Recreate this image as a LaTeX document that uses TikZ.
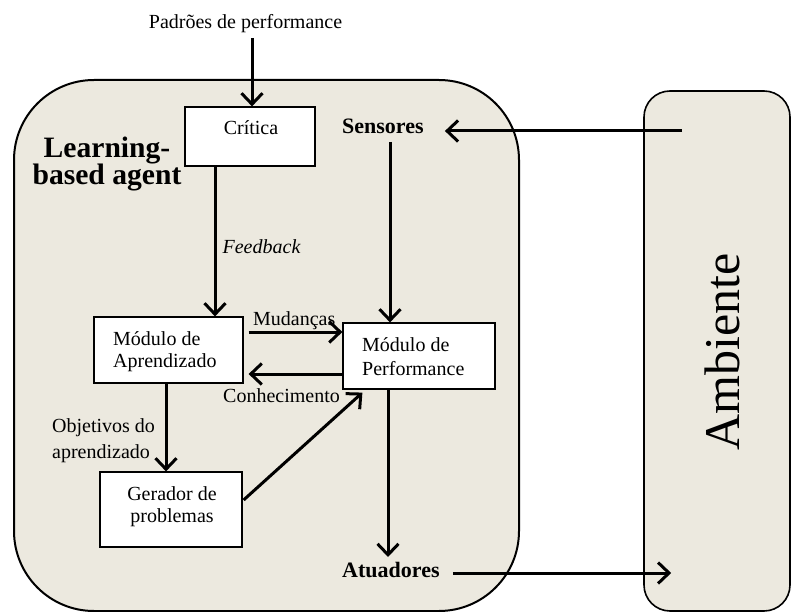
\documentclass[tikz,border=0pt]{standalone}
\usepackage{fontspec}
\setmainfont{Liberation Serif}
\usetikzlibrary{arrows.meta,calc}
\definecolor{bgfill}{HTML}{ECE9DF}
\begin{document}
\begin{tikzpicture}[x=1pt,y=-1pt,
  agentbox/.style={draw=black,line width=2pt,fill=bgfill,rounded corners=80pt,minimum width=505pt,minimum height=531pt,inner sep=0pt},
  envbox/.style={draw=black,line width=1.6pt,fill=bgfill,rounded corners=26pt,minimum width=146pt,minimum height=520pt,inner sep=0pt},
  modbox/.style={draw=black,line width=1.2pt,fill=white,inner sep=0pt},
  lbl/.style={inner sep=0pt,font=\fontsize{20}{24}\selectfont},
  boldlbl/.style={inner sep=3pt,font=\bfseries\fontsize{22}{26}\selectfont},
  arr/.style={line width=3pt,-{Straight Barb[length=11pt,width=21pt,line width=3pt]}}
]
\useasboundingbox (0,0) rectangle (792,612);
% containers
\node[agentbox] (agent) at (266.5,345.5) {};
\node[envbox] (amb) at (717,351) {};
\node[inner sep=0pt,rotate=90,font=\fontsize{50}{56}\selectfont] (ambtxt) at (722,352) {Ambiente};
% title
\node[inner sep=0pt,anchor=base,font=\bfseries\fontsize{29.6}{32}\selectfont] (title1) at (107,158) {Learning-};
\node[inner sep=0pt,anchor=base,font=\bfseries\fontsize{29.6}{32}\selectfont] (title2) at (107,185) {based agent};
% module boxes
\node[modbox,minimum width=130pt,minimum height=59pt] (crit) at (250,136.5) {};
\node[modbox,minimum width=149pt,minimum height=66pt] (apr) at (168.5,350) {};
\node[modbox,minimum width=152pt,minimum height=66pt] (perf) at (419,356) {};
\node[modbox,minimum width=142pt,minimum height=75pt] (gen) at (171,509.5) {};
% box texts
\node[lbl,anchor=base] (crittxt) at (251,135) {Crítica};
\node[lbl,anchor=base west] (apr1) at (113,345.5) {Módulo de};
\node[lbl,anchor=base west] (apr2) at (113,367.5) {Aprendizado};
\node[lbl,anchor=base west] (perf1) at (362,351) {Módulo de};
\node[lbl,anchor=base west] (perf2) at (362,375) {Performance};
\node[lbl,anchor=base] (gen1) at (172,500) {Gerador de};
\node[lbl,anchor=base] (gen2) at (172,522) {problemas};
% outer labels
\node[lbl,anchor=base] (padr) at (245.5,29) {Padrões de performance};
\node[boldlbl,anchor=base west,inner sep=0pt] (sens) at (342,134) {Sensores};
\node[boldlbl,anchor=base west,inner sep=0pt] (atu) at (342,577) {Atuadores};
\node[lbl,anchor=base,font=\itshape\fontsize{20}{24}\selectfont] (feed) at (261.5,254) {Feedback};
\node[lbl,anchor=base west] (mud) at (253,325) {Mudanças};
\node[lbl,anchor=base west] (conh) at (223,402) {Conhecimento};
\node[lbl,anchor=base west] (obj1) at (52,432.5) {Objetivos do};
\node[lbl,anchor=base west] (obj2) at (52,458) {aprendizado};
% connector coordinates
\coordinate (padrA) at ([xshift=6.5pt,yshift=-9pt]padr.base);
\coordinate (ambIn) at ([xshift=39pt]amb.west |- 0,131);
\coordinate (sensEnd) at ([xshift=21pt]sens.east |- ambIn);
\coordinate (sensDown) at ([xshift=-29pt]perf.north |- 0,142);
\coordinate (mudA) at ([shift={(5pt,18pt)}]apr.east);
\coordinate (conA) at ([shift={(5pt,-24pt)}]apr.east);
\coordinate (atuA) at ([xshift=13pt]atu.base east |- 0,573);
\coordinate (ambOut) at ([xshift=28pt]amb.west |- atuA);
% connectors
\draw[arr] (padrA) -- (padrA |- crit.north);
\draw[arr] ([xshift=-35pt]crit.south) -- ([xshift=-35pt]crit.south |- apr.north);
\draw[arr] (ambIn) -- (sensEnd);
\draw[arr] (sensDown) -- (sensDown |- perf.north);
\draw[arr] (mudA) -- (mudA -| perf.west);
\draw[arr] (conA -| perf.west) -- (conA);
\draw[arr] ([xshift=-2.5pt]apr.south) -- ([xshift=-2.5pt]apr.south |- gen.north);
\draw[arr] ([shift={(1pt,9.5pt)}]gen.east) -- ([shift={(20pt,-3pt)}]perf.south west);
\draw[arr] ([xshift=-31pt]perf.south) -- ([xshift=-31pt]perf.south |- 0,557);
\draw[arr] (atuA) -- (ambOut);
\end{tikzpicture}
\end{document}
